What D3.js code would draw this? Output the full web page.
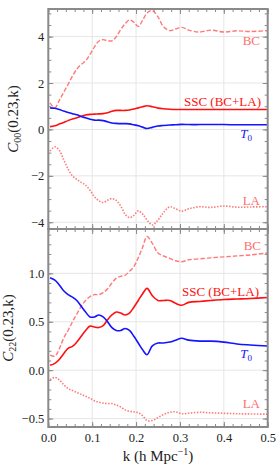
<!DOCTYPE html>
<html>
<head>
<meta charset="utf-8">
<script src="https://cdn.jsdelivr.net/npm/d3@7"></script>
<style>
  body { margin: 0; background: #fff; }
  svg { display: block; }
  text { font-family: "Liberation Serif", "Times New Roman", serif; }
</style>
</head>
<body>
<svg id="chart" width="280" height="470"></svg>
<script>
// ---- data ----
const kValues = [0.004, 0.015, 0.025, 0.035, 0.045, 0.055, 0.065, 0.075, 0.085, 0.095,
  0.105, 0.115, 0.125, 0.135, 0.145, 0.155, 0.165, 0.175, 0.185, 0.195,
  0.205, 0.215, 0.225, 0.237, 0.25, 0.262, 0.277, 0.29, 0.304, 0.32,
  0.345, 0.37, 0.4, 0.43, 0.46, 0.5];

// Top panel: C00(0.23,k)
const c00_BC = [1.15, 0.93, 1.25, 1.6, 1.94, 2.3, 2.6, 2.8, 2.95, 3.23,
  3.55, 3.8, 3.87, 3.82, 3.82, 4.0, 4.3, 4.55, 4.72, 4.62,
  4.44, 4.7, 5.02, 5.12, 4.85, 4.44, 4.26, 4.33, 4.4, 4.28,
  4.2, 4.28, 4.2, 4.25, 4.22, 4.26];
const c00_SSC = [0.12, 0.16, 0.23, 0.3, 0.38, 0.45, 0.5, 0.57, 0.62, 0.65,
  0.66, 0.67, 0.68, 0.72, 0.78, 0.82, 0.82, 0.82, 0.84, 0.88,
  0.93, 0.98, 1.02, 0.98, 0.92, 0.89, 0.87, 0.86, 0.86, 0.86,
  0.86, 0.86, 0.86, 0.86, 0.86, 0.86];
const c00_T0 = [0.93, 0.91, 0.86, 0.79, 0.73, 0.68, 0.63, 0.56, 0.5, 0.44,
  0.4, 0.4, 0.38, 0.33, 0.28, 0.26, 0.25, 0.25, 0.24, 0.2,
  0.16, 0.1, 0.04, 0.09, 0.15, 0.17, 0.19, 0.2, 0.22, 0.21,
  0.21, 0.21, 0.21, 0.2, 0.2, 0.2];
const c00_LA = [-0.93, -0.75, -0.9, -1.3, -1.7, -2.0, -2.15, -2.28, -2.4, -2.62,
  -2.9, -3.07, -3.15, -3.05, -2.98, -3.06, -3.3, -3.65, -3.8, -3.7,
  -3.51, -3.65, -3.9, -4.12, -3.9, -3.6, -3.33, -3.42, -3.52, -3.42,
  -3.33, -3.36, -3.3, -3.35, -3.34, -3.33];

// Bottom panel: C22(0.23,k)
const c22_BC = [0.155, 0.145, 0.22, 0.33, 0.41, 0.5, 0.58, 0.66, 0.72, 0.76,
  0.78, 0.78, 0.8, 0.84, 0.9, 0.95, 0.97, 0.98, 1.02, 1.07,
  1.16, 1.27, 1.38, 1.31, 1.21, 1.18, 1.155, 1.13, 1.12, 1.14,
  1.15, 1.16, 1.17, 1.18, 1.19, 1.21];
const c22_SSC = [0.05, 0.07, 0.11, 0.17, 0.225, 0.245, 0.29, 0.35, 0.41, 0.455,
  0.445, 0.44, 0.46, 0.52, 0.57, 0.6, 0.59, 0.57, 0.59, 0.65,
  0.72, 0.79, 0.845, 0.77, 0.72, 0.72, 0.72, 0.69, 0.67, 0.7,
  0.71, 0.72, 0.73, 0.735, 0.74, 0.75];
const c22_T0 = [0.955, 0.93, 0.88, 0.82, 0.78, 0.755, 0.72, 0.66, 0.6, 0.55,
  0.55, 0.57, 0.55, 0.5, 0.44, 0.41, 0.41, 0.43, 0.41, 0.35,
  0.28, 0.21, 0.16, 0.25, 0.28, 0.28, 0.29, 0.31, 0.33, 0.31,
  0.3, 0.3, 0.29, 0.27, 0.26, 0.25];
const c22_LA = [-0.1, -0.075, -0.1, -0.15, -0.19, -0.21, -0.23, -0.25, -0.27, -0.29,
  -0.315, -0.33, -0.34, -0.345, -0.345, -0.36, -0.38, -0.41, -0.425, -0.43,
  -0.44, -0.47, -0.52, -0.52, -0.49, -0.46, -0.435, -0.43, -0.45, -0.445,
  -0.435, -0.44, -0.445, -0.45, -0.452, -0.455];

const xTicks = [0.0, 0.1, 0.2, 0.3, 0.4, 0.5];
const topYTicks = [-4, -2, 0, 2, 4];
const botYTicks = [-0.5, 0.0, 0.5, 1.0];
const seriesLabels = ["BC", "SSC (BC+LA)", "T", "LA"];

// ---- layout ----
const svg = d3.select("#chart");
const L = 48.3, R = 267.7;
const x = d3.scaleLinear().domain([0, 0.5]).range([L, R]);

const panels = [
  { top: 9, bottom: 229, domain: [-4.29, 5.19], yTicks: topYTicks, minorStep: 0.5,
    fmt: d3.format("d"), series: [c00_BC, c00_SSC, c00_T0, c00_LA], showX: false,
    ylabSub: "00", ylabX: 18,
    labelPos: [[260, 45], [261, 105.5], [252, 138], [260, 205]] },
  { top: 229, bottom: 427, domain: [-0.587, 1.458], yTicks: botYTicks, minorStep: 0.1,
    fmt: d3.format(".1f"), series: [c22_BC, c22_SSC, c22_T0, c22_LA], showX: true,
    ylabSub: "22", ylabX: 12.5,
    labelPos: [[261, 250], [259, 295.5], [252, 358], [260, 408]] }
];

const salmon = "#ff6b6b";
const styles = [
  { color: salmon, width: 1.4, dash: "4.5,2", opacity: 0.9 },
  { color: "#ff1010", width: 1.6, dash: null, opacity: 1 },
  { color: "#1414ff", width: 1.6, dash: null, opacity: 1 },
  { color: salmon, width: 1.6, dash: "1.5,1.5", opacity: 0.9 }
];
const labelColors = ["#ff6e6e", "#ff1010", "#1414ff", "#ff6e6e"];
const frameColor = "#8a8a8a";
const minorX = d3.range(0, 0.5001, 0.02);

panels.forEach((p, pi) => {
  const y = d3.scaleLinear().domain(p.domain).range([p.bottom, p.top]);
  const g = svg.append("g");

  // grid
  g.append("g").selectAll("line").data(xTicks.slice(1, -1)).join("line")
    .attr("x1", d => x(d)).attr("x2", d => x(d))
    .attr("y1", p.top).attr("y2", p.bottom)
    .attr("stroke", "#e6e6e6").attr("stroke-width", 1);
  g.append("g").selectAll("line").data(p.yTicks).join("line")
    .attr("x1", L).attr("x2", R)
    .attr("y1", d => y(d)).attr("y2", d => y(d))
    .attr("stroke", "#e6e6e6").attr("stroke-width", 1);

  // lines
  const clipId = "clip" + pi;
  svg.append("clipPath").attr("id", clipId).append("rect")
    .attr("x", L).attr("y", p.top).attr("width", R - L).attr("height", p.bottom - p.top);
  const line = d3.line().x((d, i) => x(kValues[i])).y(d => y(d)).curve(d3.curveCatmullRom.alpha(0.5));
  const lg = g.append("g").attr("clip-path", `url(#${clipId})`);
  [0, 3, 1, 2].forEach(si => {
    const s = styles[si];
    lg.append("path").datum(p.series[si])
      .attr("d", line).attr("fill", "none")
      .attr("stroke", s.color).attr("stroke-width", s.width)
      .attr("stroke-opacity", s.opacity)
      .attr("stroke-dasharray", s.dash);
  });

  // axes with inward ticks
  const minorY = d3.range(Math.ceil(p.domain[0] / p.minorStep) * p.minorStep, p.domain[1], p.minorStep)
    .map(v => +v.toFixed(3));
  const axisStyle = sel => {
    sel.select(".domain").remove();
    sel.selectAll("line").attr("stroke", frameColor).attr("stroke-width", 1);
    sel.selectAll("text").attr("font-size", 12.5).attr("fill", "#222")
      .style("font-family", '"Liberation Serif", serif');
  };
  g.append("g").attr("transform", `translate(${L},0)`)
    .call(d3.axisLeft(y).tickValues(minorY).tickSize(-3).tickFormat("")).call(axisStyle);
  g.append("g").attr("transform", `translate(${L},0)`)
    .call(d3.axisLeft(y).tickValues(p.yTicks).tickSize(-5).tickPadding(4).tickFormat(p.fmt)).call(axisStyle);
  g.append("g").attr("transform", `translate(${R},0)`)
    .call(d3.axisRight(y).tickValues(minorY).tickSize(-3).tickFormat("")).call(axisStyle);
  g.append("g").attr("transform", `translate(${R},0)`)
    .call(d3.axisRight(y).tickValues(p.yTicks).tickSize(-5).tickFormat("")).call(axisStyle);
  g.append("g").attr("transform", `translate(0,${p.top})`)
    .call(d3.axisTop(x).tickValues(minorX).tickSize(-3).tickFormat("")).call(axisStyle);
  g.append("g").attr("transform", `translate(0,${p.top})`)
    .call(d3.axisTop(x).tickValues(xTicks).tickSize(-5).tickFormat("")).call(axisStyle);
  g.append("g").attr("transform", `translate(0,${p.bottom})`)
    .call(d3.axisBottom(x).tickValues(minorX).tickSize(-3).tickFormat("")).call(axisStyle);
  g.append("g").attr("transform", `translate(0,${p.bottom})`)
    .call(d3.axisBottom(x).tickValues(xTicks).tickSize(-5).tickPadding(p.showX ? 6 : 0)
      .tickFormat(p.showX ? d3.format(".1f") : "")).call(axisStyle);

  // frame
  g.append("rect").attr("x", L).attr("y", p.top).attr("width", R - L).attr("height", p.bottom - p.top)
    .attr("fill", "none").attr("stroke", frameColor).attr("stroke-width", 2);

  // series labels
  seriesLabels.forEach((lab, i) => {
    const t = g.append("text").attr("x", p.labelPos[i][0]).attr("y", p.labelPos[i][1])
      .attr("text-anchor", "end").attr("font-size", 13).attr("fill", labelColors[i]);
    if (lab === "T") {
      t.append("tspan").attr("font-style", "italic").text("T");
      t.append("tspan").attr("font-size", 9).attr("dy", 3).text("0");
    } else {
      t.text(lab);
    }
  });

  // y label
  const cy = (p.top + p.bottom) / 2;
  const yl = g.append("text").attr("transform", `translate(${p.ylabX},${cy}) rotate(-90)`)
    .attr("text-anchor", "middle").attr("font-size", 15).attr("fill", "#222");
  yl.append("tspan").attr("font-style", "italic").text("C");
  yl.append("tspan").attr("font-size", 10).attr("dy", 3).text(p.ylabSub);
  yl.append("tspan").attr("dy", -3).text("(0.23,k)");
});

// x axis label
const xl = svg.append("text").attr("x", (L + R) / 2).attr("y", 461)
  .attr("text-anchor", "middle").attr("font-size", 15).attr("fill", "#222");
xl.append("tspan").text("k (h Mpc");
xl.append("tspan").attr("font-size", 10).attr("dy", -6).text("−1");
xl.append("tspan").attr("dy", 6).text(")");
</script>
</body>
</html>
